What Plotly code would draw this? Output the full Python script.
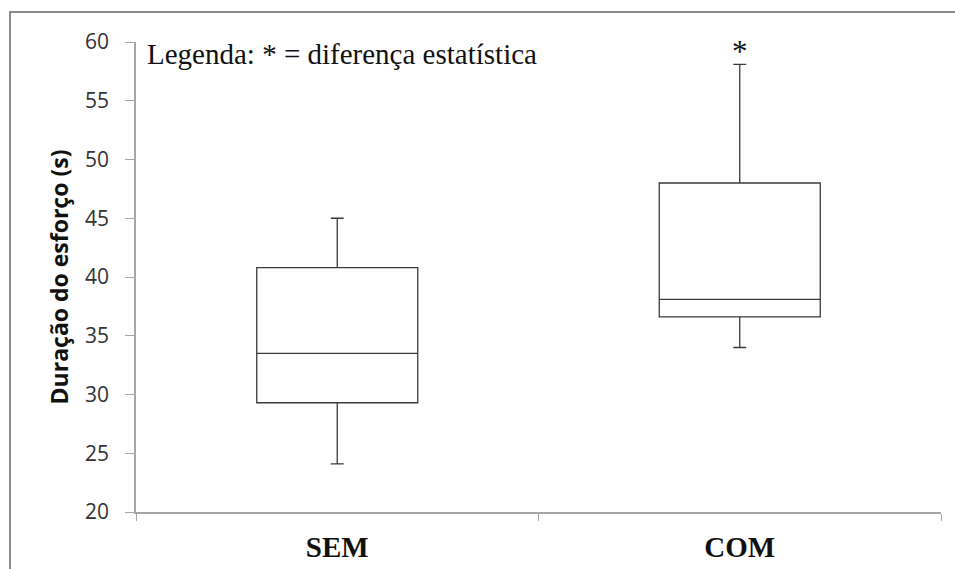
import plotly.graph_objects as go

categories = ["SEM", "COM"]
lower_whisker = [24.1, 34.0]
q1_values = [29.3, 36.6]
median_values = [33.5, 38.1]
q3_values = [40.8, 48.0]
upper_whisker = [45.0, 58.1]
y_ticks = [20, 25, 30, 35, 40, 45, 50, 55, 60]
significant = ["", "*"]

fig = go.Figure()
fig.add_trace(go.Box(
    x=categories,
    q1=q1_values, median=median_values, q3=q3_values,
    lowerfence=lower_whisker, upperfence=upper_whisker,
    fillcolor="white",
    line=dict(color="#3a3a3a", width=1.3),
    whiskerwidth=0.08,
    boxpoints=False,
    showlegend=False,
    hoverinfo="skip",
))

for c, s, uw in zip(categories, significant, upper_whisker):
    if s:
        fig.add_annotation(x=c, y=uw, text=s, showarrow=False, yanchor="middle", yshift=13,
                           font=dict(family="Liberation Serif", size=31, color="#111"))

fig.add_annotation(xref="paper", yref="paper", x=0.0112, y=1.0, xanchor="left", yanchor="top",
                   text="Legenda: * = diferença estatística", showarrow=False,
                   yshift=6,
                   font=dict(family="Liberation Serif", size=29, color="#111"))

fig.add_shape(type="rect", xref="paper", yref="paper",
              x0=-0.1565, x1=1.2, y0=-0.3, y1=1.0638,
              line=dict(color="#8a8a8a", width=2), fillcolor="rgba(0,0,0,0)", layer="below")

fig.update_layout(
    width=955, height=569,
    margin=dict(l=136, r=14, t=42, b=57),
    paper_bgcolor="white", plot_bgcolor="white",
    boxgap=0.6, boxgroupgap=0,
    xaxis=dict(
        type="category", tickson="boundaries", ticks="outside", ticklen=7,
        tickcolor="#a6a6a6", showline=True, linecolor="#a6a6a6", linewidth=1.5,
        showgrid=False, zeroline=False, automargin=False, ticklabelstandoff=8,
        tickfont=dict(family="Liberation Serif", size=29, color="#111"),
        tickprefix="<b>", ticksuffix="</b>",
    ),
    yaxis=dict(
        range=[20, 60], tickvals=y_ticks, ticks="outside", ticklen=9,
        tickcolor="#a6a6a6", showline=True, linecolor="#a6a6a6", linewidth=1.5,
        showgrid=False, zeroline=False, ticklabelstandoff=12, automargin=False,
        tickfont=dict(family="Open Sans", size=21, color="#333"),
        title=dict(text="<b>Duração do esforço (s)</b>", standoff=10,
                   font=dict(family="Open Sans", size=23, color="#111")),
    ),
)

fig.write_html("out.html", config={"displayModeBar": False},
               post_script="document.body.style.margin='0';document.body.style.overflow='hidden';")
